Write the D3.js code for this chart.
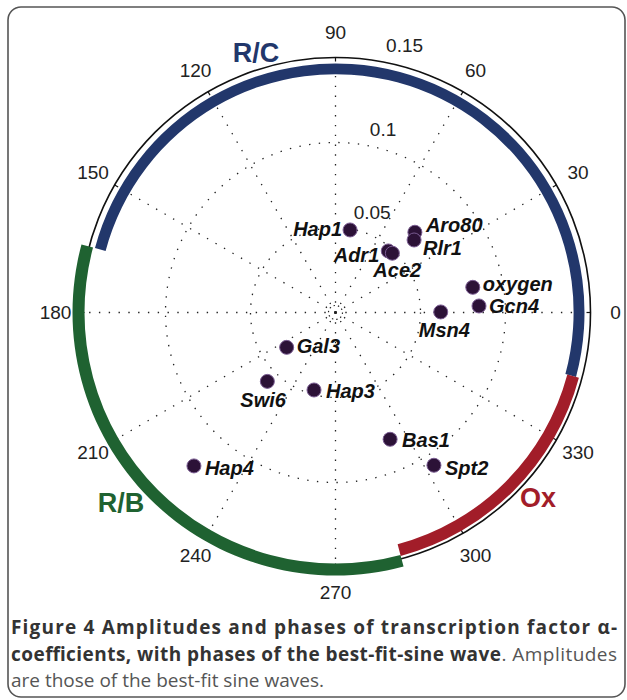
<!DOCTYPE html>
<html><head><meta charset="utf-8">
<script src="https://cdn.jsdelivr.net/npm/d3@7"></script>
<style>body{margin:0;background:#fff}svg{display:block}</style>
</head><body>
<script>
// ---- data ----
const factors   = ["Hap1","Aro80","Rlr1","Adr1","Ace2","oxygen","Gcn4","Msn4","Gal3","Swi6","Hap3","Bas1","Spt2","Hap4"];
const amplitude = [0.0493,0.0664,0.0629,0.0477,0.0483,0.0821,0.0845,0.0619,0.0353,0.0570,0.0473,0.0812,0.1069,0.1228];
const phaseDeg  = [80.0,45.3,42.7,49.4,46.2,10.4,2.6,0.3,215.5,225.3,254.5,293.3,302.8,227.3];
const angleTicks = [0,30,60,90,120,150,180,210,240,270,300,330];
const ringTicks  = [0.05,0.1,0.15];
const phaseGroups = ["R/C","R/B","Ox"];
const groupStart  = [-15,165,285];
const groupEnd    = [165,285,345];

// ---- layout ----
const W=627,H=700, cx=335.5, cy=312.5, R=255;
const svg=d3.select("body").append("svg").attr("width",W).attr("height",H);
svg.append("rect").attr("x",8).attr("y",7).attr("width",617).attr("height",690)
  .attr("rx",13).attr("fill","none").attr("stroke","#555").attr("stroke-width",1.6);

const r=d3.scaleLinear().domain([0,0.15]).range([0,R]);
const toRad=d=>d*Math.PI/180;
const px=(a,rr)=>cx+rr*Math.cos(toRad(a));
const py=(a,rr)=>cy-rr*Math.sin(toRad(a));
const g=svg.append("g");

// grid spokes
const dot="1.4,8.4";
g.selectAll("line.spoke").data(angleTicks).join("line")
  .attr("x1",cx).attr("y1",cy).attr("x2",d=>px(d,R)).attr("y2",d=>py(d,R))
  .attr("stroke","#222").attr("stroke-width",1.3).attr("stroke-dasharray",dot);
// rings
g.selectAll("circle.ring").data(ringTicks.slice(0,-1)).join("circle")
  .attr("cx",cx).attr("cy",cy).attr("r",d=>r(d)).attr("fill","none")
  .attr("stroke","#222").attr("stroke-width",1.3).attr("stroke-dasharray",dot);
g.append("circle").attr("cx",cx).attr("cy",cy).attr("r",7).attr("fill","none")
  .attr("stroke","#222").attr("stroke-width",1.2).attr("stroke-dasharray","1.4,3");
// outer circle
g.append("circle").attr("cx",cx).attr("cy",cy).attr("r",R).attr("fill","none")
  .attr("stroke","#111").attr("stroke-width",1.6);
// ticks on outer circle
g.selectAll("line.tick").data(angleTicks).join("line")
  .attr("x1",d=>px(d,R)).attr("y1",d=>py(d,R)).attr("x2",d=>px(d,R-4)).attr("y2",d=>py(d,R-4))
  .attr("stroke","#111").attr("stroke-width",1.2);

// angle labels
g.selectAll("text.ang").data(angleTicks).join("text")
  .attr("x",d=>px(d,R+25)).attr("y",d=>py(d,R+25)).attr("dy","0.35em")
  .attr("text-anchor","middle").attr("font-family","Liberation Sans, Arial, sans-serif")
  .attr("font-size",19).attr("fill","#222").text(d=>d);
// ring labels
g.selectAll("text.ring").data(ringTicks).join("text")
  .attr("x",d=>px(79,r(d)+10)).attr("y",d=>py(79,r(d)+10))
  .attr("font-family","Liberation Sans, Arial, sans-serif")
  .attr("font-size",19).attr("fill","#222").text(d=>d);

// phase group arcs
const arcColors={"R/C":"#22376b","R/B":"#1f6231","Ox":"#a21d29"};
const arcRadii={"R/C":[238,249],"R/B":[251,263],"Ox":[240,252]};
const arc=d3.arc();
phaseGroups.forEach((name,i)=>{
  g.append("path").attr("transform",`translate(${cx},${cy})`)
   .attr("d",arc({innerRadius:arcRadii[name][0],outerRadius:arcRadii[name][1],
      startAngle:toRad(90-groupEnd[i]),endAngle:toRad(90-groupStart[i])}))
   .attr("fill",arcColors[name]);
});
const groupLabelPos={"R/C":[256,62],"R/B":[121,512],"Ox":[538,507]};
phaseGroups.forEach(name=>{
  g.append("text").attr("x",groupLabelPos[name][0]).attr("y",groupLabelPos[name][1])
   .attr("text-anchor","middle").attr("font-family","Liberation Sans, Arial, sans-serif")
   .attr("font-weight","bold").attr("font-size",27).attr("fill",arcColors[name]).text(name);
});

// points
const pts=factors.map((f,i)=>({name:f,x:px(phaseDeg[i],r(amplitude[i])),y:py(phaseDeg[i],r(amplitude[i]))}));
g.selectAll("circle.pt").data(pts).join("circle")
  .attr("cx",d=>d.x).attr("cy",d=>d.y).attr("r",7)
  .attr("fill","#2c1237").attr("stroke","#7a5c92").attr("stroke-width",1);
const labelPlace={Hap1:["end",-8,6],Aro80:["start",11,0],Rlr1:["start",9,15],Adr1:["end",-9,11],
  Ace2:["start",-19,24],oxygen:["start",10,4],Gcn4:["start",10,7],Msn4:["start",-22,25],
  Gal3:["start",10,6],Swi6:["start",-27,26],Hap3:["start",12,8],Bas1:["start",12,8],
  Spt2:["start",11,9.5],Hap4:["start",11,9]};
g.selectAll("text.pt").data(pts).join("text")
  .attr("x",d=>d.x+labelPlace[d.name][1]).attr("y",d=>d.y+labelPlace[d.name][2])
  .attr("text-anchor",d=>labelPlace[d.name][0])
  .attr("font-family","Liberation Sans, Arial, sans-serif").attr("font-weight","bold")
  .attr("font-style","italic").attr("font-size",20).attr("fill","#111").text(d=>d.name);

// caption
const cap=svg.append("g").attr("font-family","Open Sans, sans-serif").attr("font-size",19);
cap.append("text").attr("x",11).attr("y",634).attr("textLength",606).attr("lengthAdjust","spacing")
  .attr("font-weight","bold").attr("fill","#333").text("Figure 4 Amplitudes and phases of transcription factor α-");
const l2=cap.append("text").attr("x",11).attr("y",661).attr("textLength",606).attr("lengthAdjust","spacing");
l2.append("tspan").attr("font-weight","bold").attr("fill","#333").text("coefficients, with phases of the best-fit-sine wave");
l2.append("tspan").attr("fill","#555").text(". Amplitudes");
cap.append("text").attr("x",11).attr("y",687).attr("fill","#555").text("are those of the best-fit sine waves.");
</script>
</body></html>
